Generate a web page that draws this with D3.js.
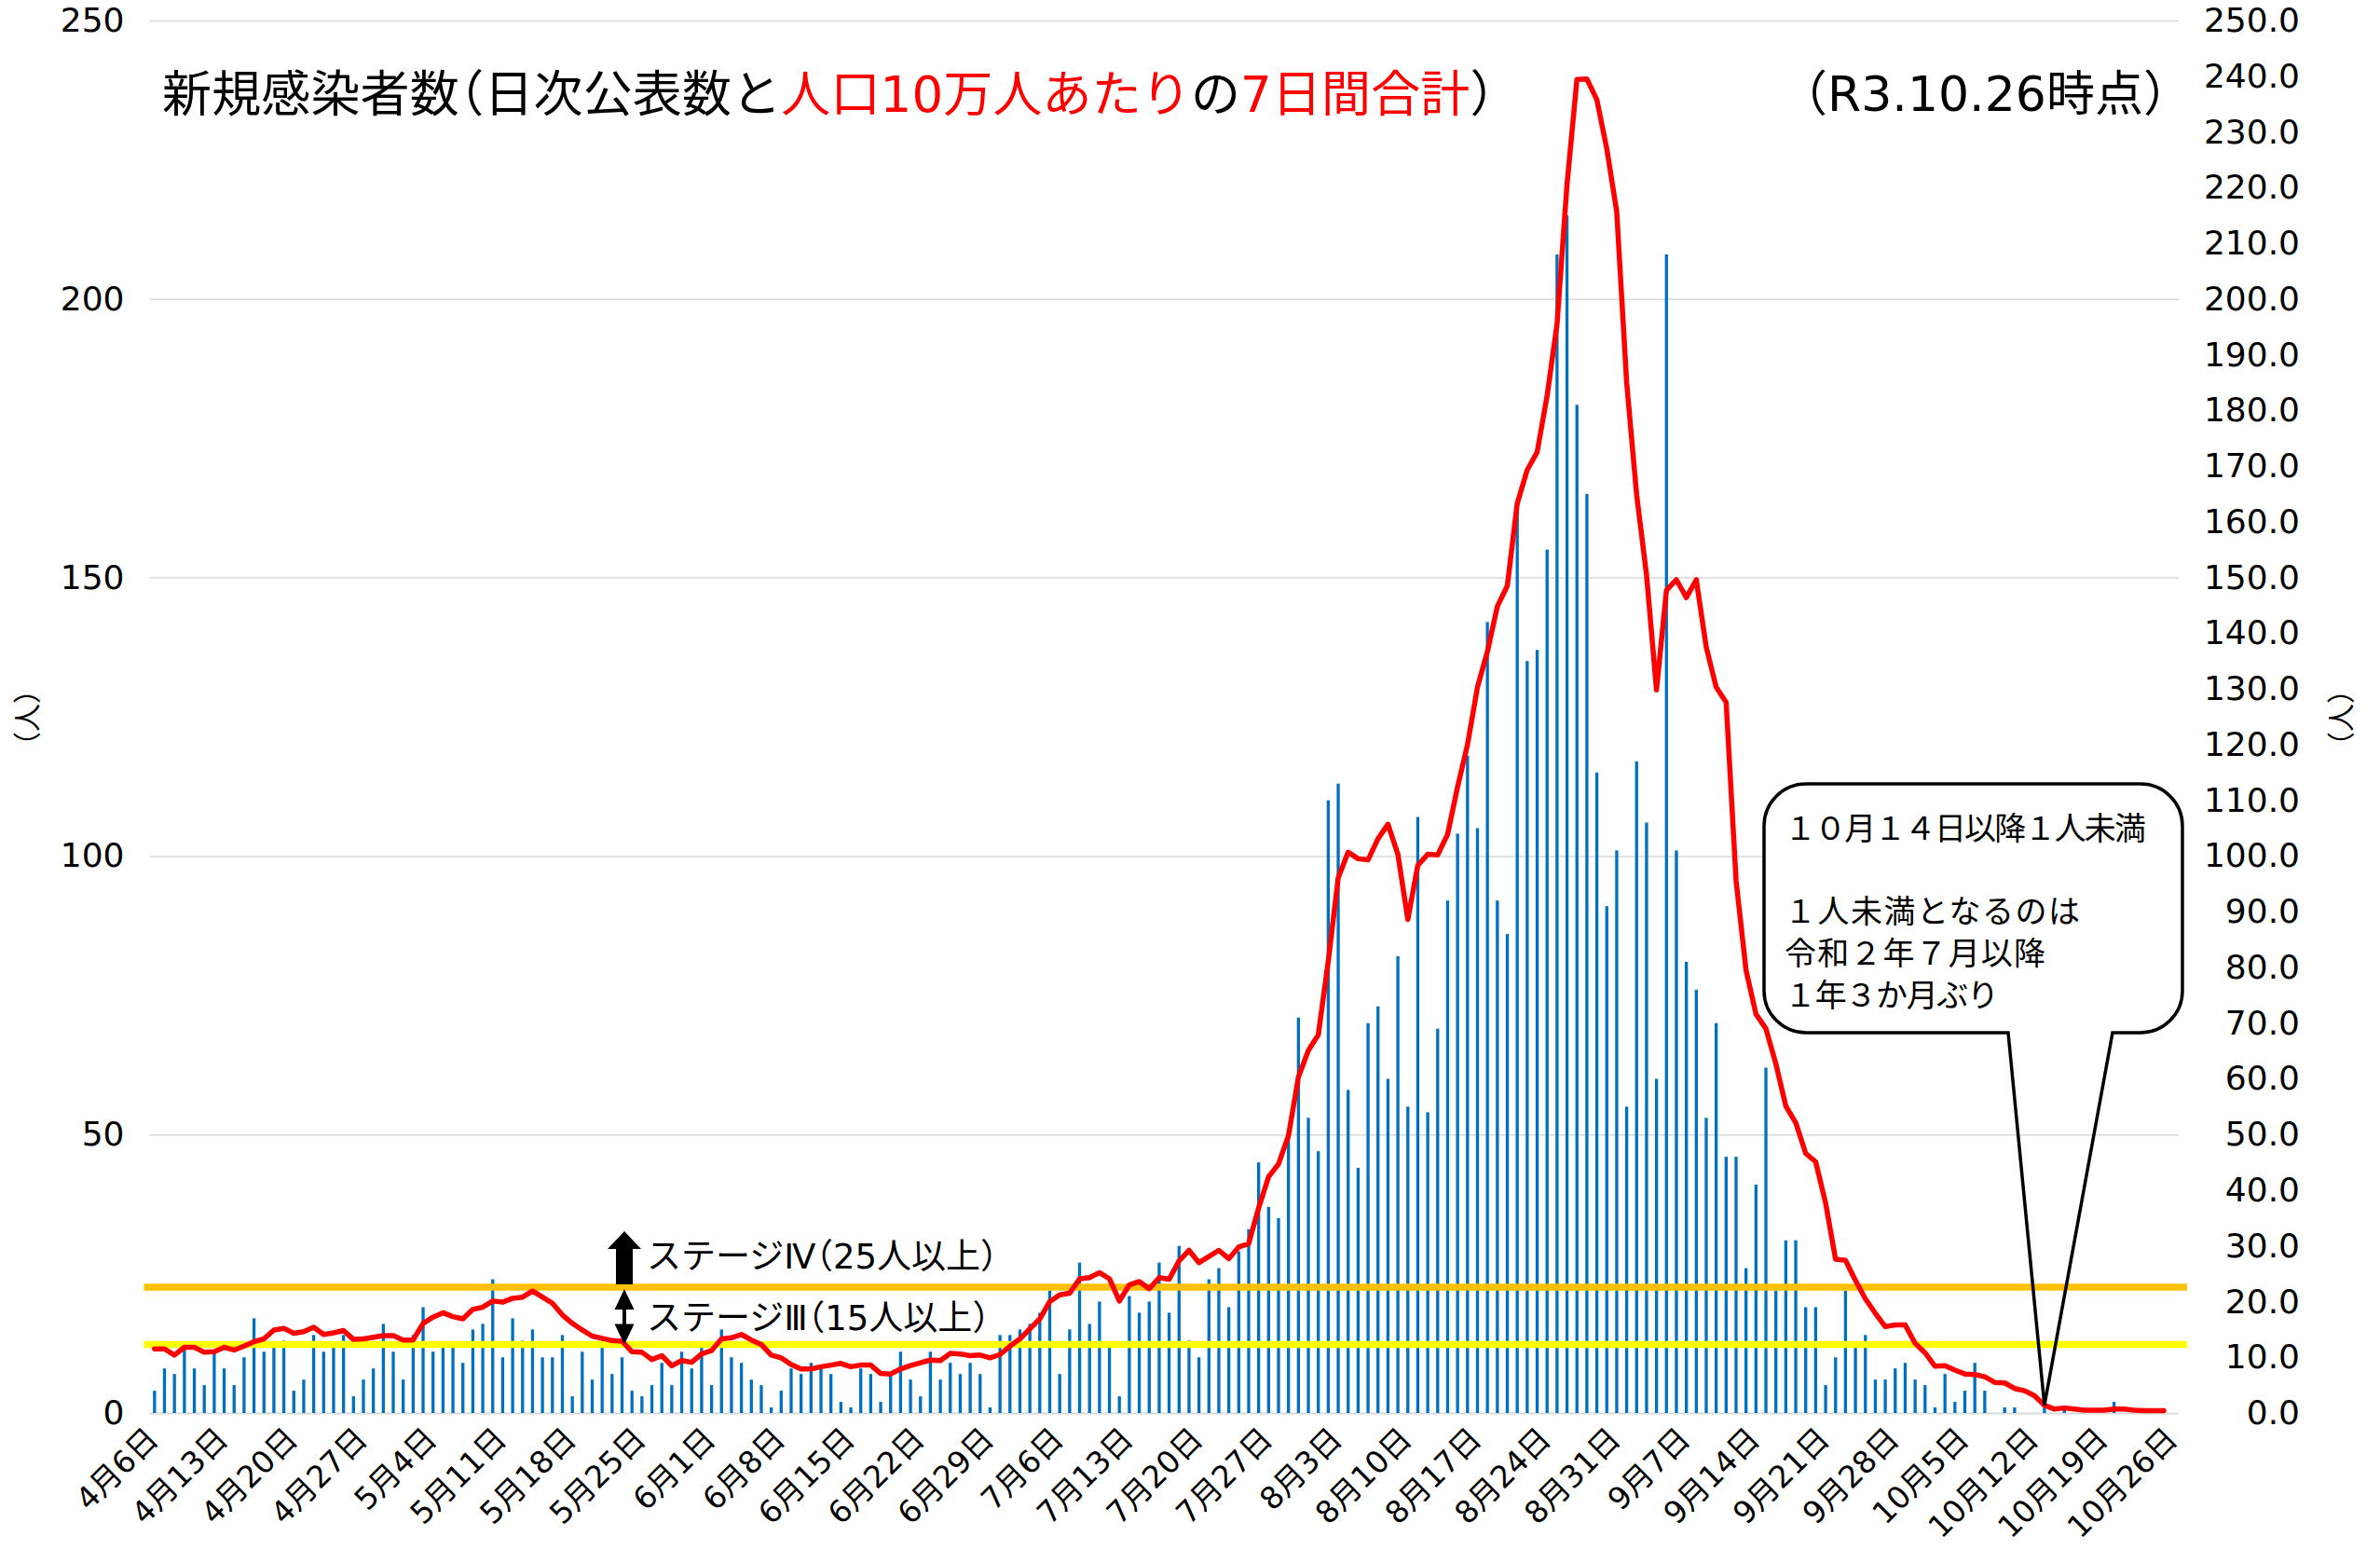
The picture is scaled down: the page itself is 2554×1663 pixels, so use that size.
<!DOCTYPE html>
<html>
<head>
<meta charset="utf-8">
<script src="https://cdn.jsdelivr.net/npm/d3@7"></script>
<style>
  body { margin: 0; background: #fff; }
  svg { display: block; }
  text { font-family: "DejaVu Sans", "Noto Sans CJK JP", sans-serif; fill: #000; }
  .halt { font-feature-settings: "halt" 1; }
</style>
</head>
<body>
<script>
// ---- data ----
const startDate = new Date(2021, 3, 6); // 4月6日

// daily new cases (人)
const cases = [
  4, 8, 7, 12, 8, 5, 11, 8, 5, 10, 17, 11, 12, 13, 4, 6, 14, 11, 12, 14,
  3, 6, 8, 16, 11, 6, 14, 19, 11, 12, 12, 9, 15, 16, 24, 10, 17, 13, 15, 10,
  10, 14, 3, 11, 6, 13, 7, 10, 4, 3, 5, 9, 5, 11, 8, 12, 5, 15, 10, 9,
  6, 5, 1, 4, 8, 7, 9, 8, 7, 2, 1, 8, 7, 2, 7, 11, 6, 3, 11, 6,
  9, 7, 9, 7, 1, 14, 14, 15, 16, 18, 22, 7, 15, 27, 16, 20, 12, 3, 21, 18,
  20, 27, 18, 30, 13, 10, 24, 26, 19, 29, 33, 45, 37, 35, 50, 71, 53, 47, 110, 113,
  58, 44, 70, 73, 60, 82, 55, 107, 54, 69, 92, 104, 118, 105, 142, 92, 86, 162, 135, 137,
  155, 208, 215, 181, 165, 115, 91, 101, 55, 117, 106, 60, 208, 101, 81, 76, 53, 70, 46, 46,
  26, 41, 62, 22, 31, 31, 19, 19, 5, 10, 22, 12, 14, 6, 6, 8, 9, 6, 5, 1,
  7, 2, 4, 9, 4, 0, 1, 1, 0, 0, 1, 0, 1, 0, 0, 0, 0, 2, 0, 0,
  0, 0, 0, 0
];

// 人口10万人あたりの7日間合計
const rate7d = [
  11.5, 11.5, 10.4, 11.8, 11.8, 10.9, 11.0, 11.8, 11.3, 12.0, 12.8, 13.3, 14.9, 15.2, 14.3, 14.6, 15.4, 14.1, 14.4, 14.8,
  13.2, 13.3, 13.6, 13.9, 13.9, 13.1, 13.1, 16.1, 17.2, 18.0, 17.3, 16.9, 18.6, 19.0, 20.1, 19.9, 20.6, 20.8, 21.9, 20.8,
  19.7, 17.6, 16.1, 14.9, 13.8, 13.4, 13.0, 12.9, 11.0, 10.9, 9.6, 10.3, 8.5, 9.4, 9.1, 10.6, 11.2, 13.3, 13.5, 14.1,
  13.1, 12.3, 10.4, 9.9, 8.7, 7.9, 7.9, 8.3, 8.6, 8.9, 8.3, 8.6, 8.6, 7.1, 7.0, 7.9, 8.5, 9.0, 9.5, 9.4,
  10.7, 10.6, 10.3, 10.4, 9.9, 10.5, 12.0, 13.3, 15.1, 16.9, 20.0, 21.2, 21.5, 24.1, 24.3, 25.2, 24.1, 20.1, 23.0, 23.6,
  22.3, 24.3, 24.0, 27.3, 29.2, 27.0, 28.1, 29.2, 27.7, 29.8, 30.4, 36.8, 42.4, 44.7, 49.8, 60.3, 65.1, 67.9, 81.1, 96.1,
  100.7, 99.5, 99.3, 103.1, 105.7, 100.3, 88.6, 98.3, 100.3, 100.2, 103.9, 112.4, 120.0, 130.3, 136.7, 144.8, 148.5, 163.3, 169.3, 172.5,
  182.6, 195.5, 220.5, 239.4, 239.5, 235.8, 227.0, 215.7, 185.0, 164.9, 150.4, 129.8, 147.7, 149.6, 146.4, 149.6, 137.5, 130.3, 127.6, 95.6,
  79.5, 71.6, 69.0, 62.7, 55.1, 52.1, 46.6, 45.1, 37.7, 27.6, 27.4, 23.8, 20.5, 17.9, 15.5, 15.8, 15.8, 12.5, 10.8, 8.4,
  8.5, 7.7, 7.0, 6.9, 6.5, 5.5, 5.4, 4.4, 4.0, 3.1, 1.4, 0.7, 0.9, 0.7, 0.5, 0.5, 0.5, 0.7, 0.7, 0.5,
  0.4, 0.4, 0.4, null
];

const stageIV = 22.6;   // orange line as drawn
const stageIII = 12.3;  // yellow line as drawn
const leftTicks = [0, 50, 100, 150, 200, 250];
const rightTicks = d3.range(0, 251, 10);
const tickEvery = 7;

const titleParts = [
  { t: '新規感染者数（日次公表数と', red: false },
  { t: '人口10万人あたり', red: true },
  { t: 'の', red: false },
  { t: '7日間合計', red: true },
  { t: '）', red: false }
];
const asOf = '（R3.10.26時点）';
const stageLabels = ['ステージⅣ（25人以上）', 'ステージⅢ（15人以上）'];
const noteLines = ['１０月１４日以降１人未満', '', '１人未満となるのは', '令和２年７月以降', '１年３か月ぶり'];
const noteWidths = [388, 0, 317, 280, 230];

// ---- layout ----
const W = 2554, H = 1663;
const xL = 160.5, xR = 2338, yT = 22, yB = 1516;

const svg = d3.select('body').append('svg').attr('width', W).attr('height', H);

const days = d3.timeDay.range(startDate, d3.timeDay.offset(startDate, cases.length));
const fmt = (d) => (d.getMonth() + 1) + '月' + d.getDate() + '日';

const x = d3.scaleBand().domain(days.map((d, i) => i)).range([xL, xR]).paddingInner(0.69).paddingOuter(0.345);
const yL = d3.scaleLinear().domain([0, 250]).range([yB, yT]);
const yR = d3.scaleLinear().domain([0, 250]).range([yB, yT]);
const cx = (i) => x(i) + x.bandwidth() / 2;

// write a string into a text node, narrowing the full-width brackets
function runs(sel, str, fill) {
  str.split(/([（）])/).filter((s) => s.length).forEach((s) => {
    const t = sel.append('tspan').text(s);
    if (fill) t.attr('fill', fill);
    if (s === '（' || s === '）') t.attr('class', 'halt');
  });
}

// gridlines
svg.append('g')
  .attr('transform', `translate(${xL},0)`)
  .call(d3.axisLeft(yL).tickValues(leftTicks).tickSize(-(xR - xL)).tickFormat(''))
  .call((g) => g.select('.domain').remove())
  .call((g) => g.selectAll('line').attr('stroke', '#d9d9d9').attr('stroke-width', (d) => (d === 0 ? 2 : 1.5)));

// bars
svg.append('g').selectAll('rect').data(cases).join('rect')
  .attr('x', (d, i) => x(i))
  .attr('y', (d) => yL(d))
  .attr('width', x.bandwidth())
  .attr('height', (d) => yB - yL(d))
  .attr('fill', '#0070c0');

// stage lines
[[stageIV, '#ffc000'], [stageIII, '#ffff00']].forEach(([v, c]) => {
  svg.append('line')
    .attr('x1', xL - 6).attr('x2', xR + 9)
    .attr('y1', yR(v)).attr('y2', yR(v))
    .attr('stroke', c).attr('stroke-width', 7.5);
});

// 7-day line
svg.append('path')
  .datum(rate7d)
  .attr('d', d3.line().defined((d) => d != null).x((d, i) => cx(i)).y((d) => yR(d)))
  .attr('fill', 'none')
  .attr('stroke', '#ff0000')
  .attr('stroke-width', 5.5)
  .attr('stroke-linejoin', 'round')
  .attr('stroke-linecap', 'round');

// left axis labels
svg.append('g')
  .attr('transform', `translate(${xL},0)`)
  .call(d3.axisLeft(yL).tickValues(leftTicks).tickSize(0).tickPadding(27))
  .call((g) => g.select('.domain').remove())
  .call((g) => g.selectAll('text').attr('font-size', 36).attr('font-family', null).attr('fill', '#000'));

// right axis labels
svg.append('g')
  .attr('transform', `translate(${xR},0)`)
  .call(d3.axisRight(yR).tickValues(rightTicks).tickSize(0).tickFormat(d3.format('.1f')))
  .call((g) => g.select('.domain').remove())
  .call((g) => g.selectAll('text').attr('font-size', 36).attr('font-family', null).attr('fill', '#000')
    .attr('text-anchor', 'end').attr('x', 130));

// x axis labels
svg.append('g')
  .attr('transform', `translate(0,${yB})`)
  .call(d3.axisBottom(x).tickValues(days.map((d, i) => i).filter((i) => i % tickEvery === 0)).tickSize(0).tickFormat((i) => fmt(days[i])))
  .call((g) => g.select('.domain').remove())
  .call((g) => g.selectAll('text').attr('font-size', 33).attr('font-family', null).attr('fill', '#000')
    .attr('x', 0).attr('y', 0).attr('dy', 0)
    .attr('text-anchor', 'end')
    .attr('transform', 'translate(6,30) rotate(-45)'));

// axis titles
[29, 2512].forEach((tx) => {
  svg.append('text')
    .attr('transform', `translate(${tx},770) rotate(-90)`)
    .attr('text-anchor', 'middle').attr('dominant-baseline', 'central')
    .attr('font-size', 30).text('（人）');
});

// title
const title = svg.append('text').attr('x', 174).attr('y', 101)
  .attr('dominant-baseline', 'central').attr('font-size', 53)
  .attr('textLength', 1430).attr('lengthAdjust', 'spacing');
titleParts.forEach((p) => runs(title, p.t, p.red ? '#ff0000' : '#000'));

const asOfText = svg.append('text').attr('x', 1935).attr('y', 101)
  .attr('dominant-baseline', 'central').attr('font-size', 52)
  .attr('textLength', 391).attr('lengthAdjust', 'spacing');
runs(asOfText, asOf);

// stage annotations
const ax = 670;
const yIV = yR(stageIV), yIII = yR(stageIII);
const upTip = yIV - 60;
svg.append('path')
  .attr('d', `M${ax - 9},${yIV - 3}V${upTip + 19}H${ax - 18}L${ax},${upTip}L${ax + 18},${upTip + 19}H${ax + 9}V${yIV - 3}Z`)
  .attr('fill', '#000');
const t3 = yIV + 2, b3 = yIII;
svg.append('path')
  .attr('d', `M${ax},${t3}L${ax + 10.5},${t3 + 22}H${ax + 2}V${b3 - 22}H${ax + 10.5}L${ax},${b3}L${ax - 10.5},${b3 - 22}H${ax - 2}V${t3 + 22}H${ax - 10.5}Z`)
  .attr('fill', '#000');

[[stageLabels[0], yIV - 33], [stageLabels[1], (yIV + yIII) / 2 + 2]].forEach(([s, ty]) => {
  const t = svg.append('text').attr('x', 694).attr('y', ty)
    .attr('dominant-baseline', 'central').attr('font-size', 37);
  runs(t, s);
});

// callout box
const bx0 = 1893, by0 = 841, bx1 = 2342, by1 = 1108, r = 45;
const tipI = 190;
const tipX = cx(tipI), tipY = yR(rate7d[tipI]);
const tailL = 2155, tailR = 2267;
svg.append('rect')
  .attr('x', bx0).attr('y', by0).attr('width', bx1 - bx0).attr('height', by1 - by0)
  .attr('rx', r).attr('fill', '#fff');
svg.append('path')
  .attr('d', `M${bx0 + r},${by0}H${bx1 - r}A${r},${r} 0 0 1 ${bx1},${by0 + r}V${by1 - r}A${r},${r} 0 0 1 ${bx1 - r},${by1}` +
    `H${tailR}L${tipX},${tipY}L${tailL},${by1}H${bx0 + r}A${r},${r} 0 0 1 ${bx0},${by1 - r}V${by0 + r}A${r},${r} 0 0 1 ${bx0 + r},${by0}Z`)
  .attr('fill', 'none').attr('stroke', '#000').attr('stroke-width', 3.5).attr('stroke-linejoin', 'miter');

noteLines.forEach((l, i) => {
  if (!l) return;
  svg.append('text').attr('x', 1915).attr('y', 889 + i * 44.7)
    .attr('dominant-baseline', 'central').attr('font-size', 34)
    .attr('textLength', noteWidths[i]).attr('lengthAdjust', 'spacing')
    .text(l);
});
</script>
</body>
</html>
